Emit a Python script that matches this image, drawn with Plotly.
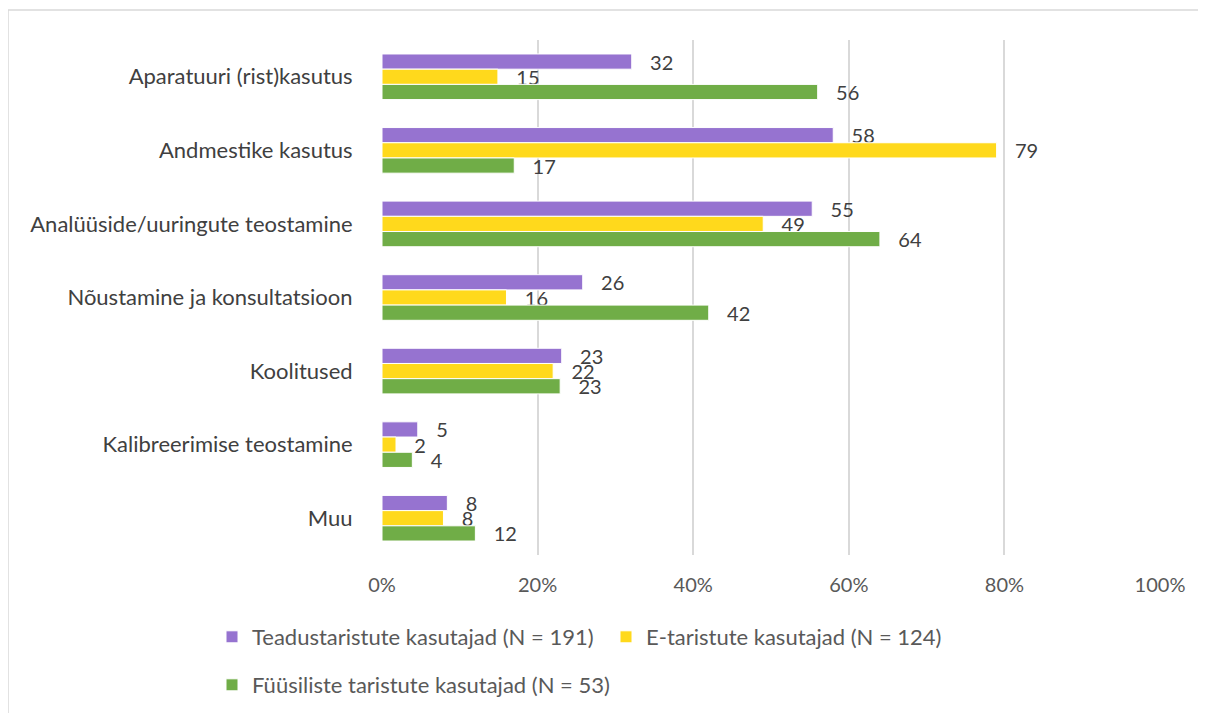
import plotly.graph_objects as go

categories = ["Aparatuuri (rist)kasutus", "Andmestike kasutus", "Analüüside/uuringute teostamine",
              "Nõustamine ja konsultatsioon", "Koolitused", "Kalibreerimise teostamine", "Muu"]
teadus = [32.1, 58.0, 55.3, 25.8, 23.1, 4.6, 8.4]
e_tar = [14.9, 79.0, 49.0, 16.0, 22.0, 1.8, 7.9]
fyys = [56.0, 17.0, 64.0, 42.0, 22.9, 3.9, 12.0]
series_names = ["Teadustaristute kasutajad (N = 191)", "E-taristute kasutajad (N = 124)",
                "Füüsiliste taristute kasutajad (N = 53)"]
colors = ["#9673D0", "#FFD91C", "#70AD47"]
tick_vals = [0, 20, 40, 60, 80, 100]
tick_text = [f"{v}%" for v in tick_vals]

FONT = "Lato"
legend_ids = ["legend", "legend2", "legend3"]
fig = go.Figure()
for name, vals, col, lg in zip(series_names, [teadus, e_tar, fyys], colors, legend_ids):
    fig.add_trace(go.Bar(
        y=categories, x=vals, name=name, orientation="h",
        marker=dict(color=col, line=dict(color="white", width=1)),
        text=[f"{v:.0f}" for v in vals], texttemplate="   %{text}",
        textposition="outside", cliponaxis=False, constraintext="none",
        textfont=dict(family=FONT, size=20, color="#404040"),
        legend=lg, showlegend=True,
    ))

W, H = 1206, 713
L, T = 374, 32
PW, PH = 778, 515
leg_common = dict(orientation="h", xref="container", yref="container", xanchor="left",
                  yanchor="middle", font=dict(family=FONT, size=22, color="#595959"),
                  itemwidth=30, bgcolor="rgba(0,0,0,0)")

fig.update_layout(
    width=W, height=H, showlegend=True,
    margin=dict(l=L, r=W - L - PW, t=T, b=H - T - PH, autoexpand=False),
    paper_bgcolor="white", plot_bgcolor="white",
    barmode="group", bargap=0.38, bargroupgap=0,
    font=dict(family=FONT, color="#595959"),
    xaxis=dict(range=[0, 100], tickvals=tick_vals, ticktext=tick_text, showgrid=True,
               gridcolor="#D9D9D9", gridwidth=1.5, zeroline=False, showline=False,
               ticks="outside", ticklen=12, tickcolor="rgba(0,0,0,0)",
               tickfont=dict(family=FONT, size=20, color="#595959")),
    yaxis=dict(autorange="reversed", showgrid=False, ticks="outside", ticklen=24,
               tickcolor="rgba(0,0,0,0)", tickfont=dict(family=FONT, size=22, color="#404040")),
    legend=dict(x=204 / W, y=1 - 629 / H, **leg_common),
    legend2=dict(x=598 / W, y=1 - 629 / H, **leg_common),
    legend3=dict(x=204 / W, y=1 - 677 / H, **leg_common),
    shapes=[dict(type="rect", xref="paper", yref="paper",
                 x0=(0 - L) / PW, x1=(W + 20 - L) / PW,
                 y0=(T + PH - H - 20) / PH, y1=(T + PH - 2) / PH,
                 line=dict(color="#D9D9D9", width=1.5), fillcolor="rgba(0,0,0,0)", layer="below")],
)
fig.write_html("out.html")
